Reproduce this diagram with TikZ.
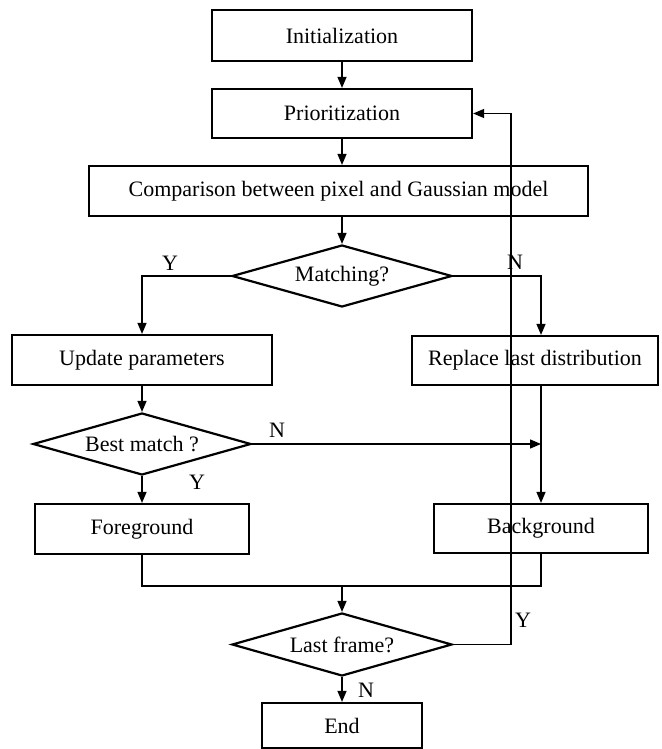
\documentclass[tikz,border=0pt]{standalone}
\usepackage{fontspec}
\setmainfont{Liberation Serif}
\usetikzlibrary{shapes.geometric, arrows.meta}

\tikzset{
  block/.style={draw, line width=2.2pt, rectangle, inner sep=0pt},
  decision/.style={draw, line width=2.2pt, diamond, inner sep=0pt, aspect=3.55,
    minimum width=220pt, minimum height=62pt},
  flow/.style={line width=1.3pt, -{Triangle[length=11pt,width=9pt]}},
  line/.style={line width=1.3pt},
  lbl/.style={inner sep=0pt}
}

\begin{document}
\begin{tikzpicture}[x=1pt,y=-1pt,font=\fontsize{22}{26}\selectfont]
  \useasboundingbox (0,0) rectangle (661,749);
  % Nodes
  \node[block,minimum width=260pt,minimum height=51pt] (init) at (342,35.5) {Initialization};
  \node[block,minimum width=260pt,minimum height=49pt] (prio) at (342,113.5) {Prioritization};
  \node[block,minimum width=499pt,minimum height=50pt] (comp) at (338.5,191) {Comparison between pixel and Gaussian model};
  \node[decision] (match) at (342,276) {Matching?};
  \node[block,minimum width=260pt,minimum height=50pt] (update) at (142,360) {Update parameters};
  \node[block,minimum width=246pt,minimum height=49pt] (replace) at (535,360.5) {Replace last distribution};
  \node[decision,minimum width=218pt,aspect=3.5] (best) at (142,444) {Best match ?};
  \node[block,minimum width=214pt,minimum height=50pt] (fore) at (142,529) {Foreground};
  \node[block,minimum width=214pt,minimum height=49pt] (back) at (541,528.5) {Background};
  \node[decision,minimum height=63pt,aspect=3.5] (last) at (342,644.5) {Last frame?};
  \node[block,minimum width=160pt,minimum height=45pt] (endn) at (342,725.5) {End};
  % Helper points
  \coordinate (merge) at (342,586);
  \coordinate (fb) at (511,113.5);
  % Labels
  \node[lbl] (ymatch) at (170,263) {Y};
  \node[lbl] (nmatch) at (515,262) {N};
  \node[lbl] (nbest) at (277,430) {N};
  \node[lbl] (ybest) at (197,482) {Y};
  \node[lbl] (ylast) at (523,620) {Y};
  \node[lbl] (nlast) at (366,690) {N};
  % Main column
  \draw[flow] (init) -- (prio);
  \draw[flow] (prio.south) -- (prio.south |- comp.north);
  \draw[flow] (prio.south |- comp.south) -- (match.north);
  % Matching branches
  \draw[flow] (match.west) -| (update.north);
  \draw[flow] (match.east) -| (replace.north -| back.north);
  \draw[flow] (update) -- (best);
  \draw[flow] (best.east) -- (best.east -| back.north);
  \draw[flow] (replace.south -| back.north) -- (back.north);
  \draw[flow] (best) -- (fore);
  % Merge to last frame
  \draw[line] (fore.south) |- (merge) -| (back.south);
  \draw[flow] (merge) -- (last.north);
  \draw[flow] (last.east) -| (fb) -- (prio.east);
  \draw[flow] (last) -- (endn);
\end{tikzpicture}
\end{document}
